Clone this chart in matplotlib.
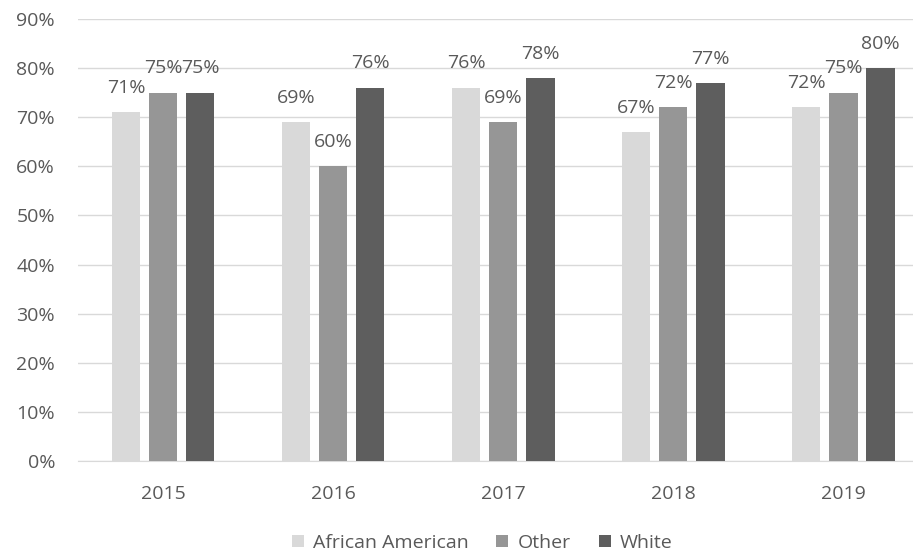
import numpy as np
import matplotlib.pyplot as plt

years = ['2015', '2016', '2017', '2018', '2019']
african_american = [71, 69, 76, 67, 72]
other = [75, 60, 69, 72, 75]
white = [75, 76, 78, 77, 80]

series = [('African American', african_american, '#d9d9d9'),
          ('Other', other, '#969696'),
          ('White', white, '#5e5e5e')]

plt.rcParams['font.family'] = ['Open Sans', 'DejaVu Sans']
txt = '#595959'

fig = plt.figure(figsize=(9.13, 5.55), dpi=100)
ax = fig.add_axes([78 / 913, 1 - 461 / 555, 1 - 78 / 913, (461 - 19) / 555])

x = np.arange(len(years))
w = 0.168
step = 0.218
for i, (name, vals, col) in enumerate(series):
    pos = x + (i - 1) * step
    ax.bar(pos, vals, width=w, color=col, label=name, zorder=3)
    for p, v in zip(pos, vals):
        ax.annotate(f'{v}%', (p, v), xytext=(0, 11), textcoords='offset points',
                    ha='center', va='bottom', fontsize=14, color=txt, zorder=4)

ax.set_ylim(0, 90)
ax.set_yticks(range(0, 91, 10))
ax.set_yticklabels([f'{t}%' for t in range(0, 91, 10)])
ax.set_xlim(-0.5, 4.41)
ax.set_xticks(x)
ax.set_xticklabels(years)
ax.yaxis.grid(True, color='#d9d9d9', lw=1, zorder=0)
for s in ['top', 'right', 'left']:
    ax.spines[s].set_visible(False)
ax.spines['bottom'].set_color('#d9d9d9')
ax.tick_params(axis='both', length=0, labelsize=14, colors=txt)
ax.tick_params(axis='x', pad=17)
ax.tick_params(axis='y', pad=16.5)

leg = fig.legend(loc='center', bbox_to_anchor=(482 / 913, 1 - 543 / 555), ncol=3, frameon=False,
                 fontsize=14, handlelength=0.62, handleheight=0.62, handletextpad=0.46,
                 columnspacing=1.44)
for t in leg.get_texts():
    t.set_color(txt)

fig.savefig('out.png', dpi=100)
